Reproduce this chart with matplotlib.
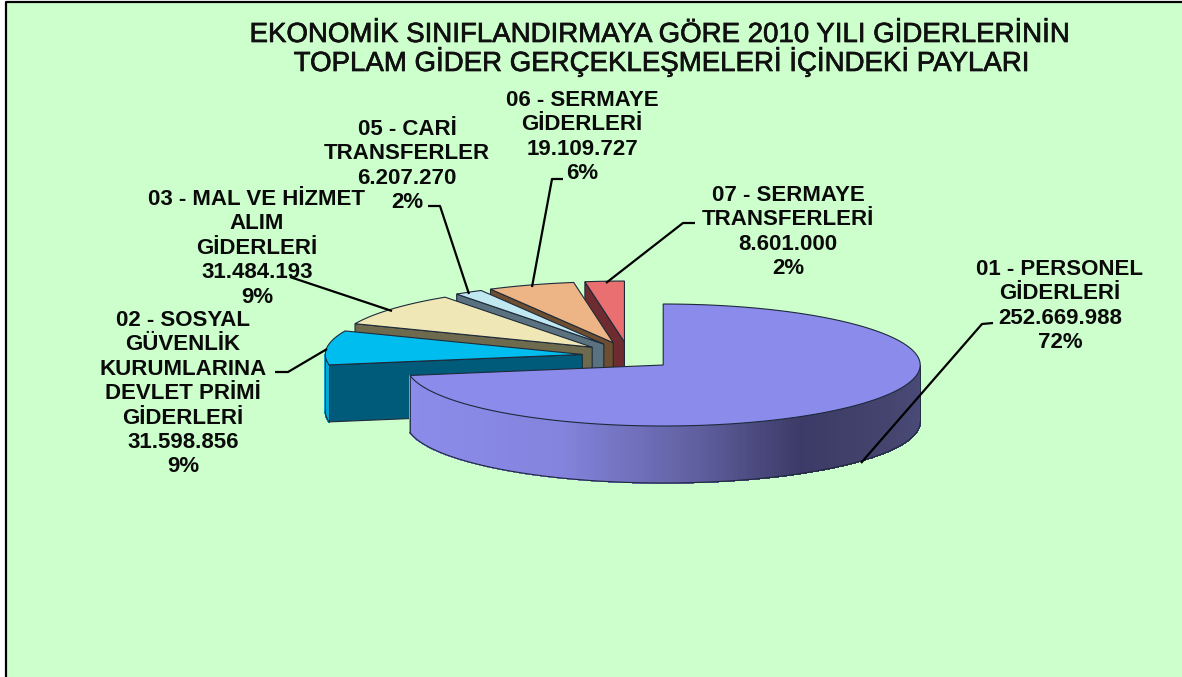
import numpy as np
import matplotlib
matplotlib.use("Agg")
import matplotlib.pyplot as plt
import matplotlib.patheffects as pe
from matplotlib.colors import LinearSegmentedColormap
from matplotlib.patches import Polygon

plt.rcParams['font.family'] = ['Liberation Sans', 'DejaVu Sans']

# slices, clockwise from 12 o'clock
codes = ["01", "02", "03", "05", "06", "07"]
values = [252669988, 31598856, 31484193, 6207270, 19109727, 8601000]
percents = ["72%", "9%", "9%", "2%", "6%", "2%"]
value_labels = ["252.669.988", "31.598.856", "31.484.193", "6.207.270", "19.109.727", "8.601.000"]
names = [
    ["01 - PERSONEL", "GİDERLERİ"],
    ["02 - SOSYAL", "GÜVENLİK", "KURUMLARINA", "DEVLET PRİMİ", "GİDERLERİ"],
    ["03 - MAL VE HİZMET", "ALIM", "GİDERLERİ"],
    ["05 - CARİ", "TRANSFERLER"],
    ["06 - SERMAYE", "GİDERLERİ"],
    ["07 - SERMAYE", "TRANSFERLERİ"],
]
top_colors = ["#8B8BEB", "#00BDEF", "#F0E7B6", "#BFE8F2", "#EDB585", "#E96F70"]
face_colors = ["#45447A", "#005A7A", "#6E6A4E", "#5A7280", "#6E4E30", "#6E2B30"]
rim_colors = ["#8B8BEB", "#00A8D6", "#6E6A4E", "#5A7280", "#6E4E30", "#6E2B30"]
title_lines = ["EKONOMİK SINIFLANDIRMAYA GÖRE 2010 YILI GİDERLERİNİN",
               "TOPLAM GİDER GERÇEKLEŞMELERİ İÇİNDEKİ PAYLARI"]

# label placement: centre x, first baseline y
label_x = [1060, 183, 257, 407, 582, 788]
label_y = [275, 326, 205, 135, 106, 201]
label_step = 24.4
leaders = [
    [(861, 463), (982, 324), (993, 323)],
    [(275, 372), (288, 372), (327, 349)],
    [(290, 277), (392, 311)],
    [(428, 206), (440, 206), (469, 294)],
    [(563, 179), (552, 179), (532, 287)],
    [(695, 223), (683, 223), (606, 283)],
]

# pie geometry in pixels
cx, cy = 628, 356
rx, ry = 257, 61
depth = 57
ex, ey = 46, 14

fig = plt.figure(figsize=(11.82, 6.77), dpi=100, facecolor="white")
ax = fig.add_axes([0, 0, 1, 1])
ax.set_xlim(0, 1182)
ax.set_ylim(677, 0)
ax.axis("off")

ax.add_patch(Polygon([(6, 2), (1182, 2), (1182, 677), (6, 677)], closed=True,
                     facecolor="#CCFFCC", edgecolor="none", zorder=0))
ax.plot([6, 6, 1182], [677, 1.5, 1.5], color="black", lw=1.6, zorder=1)

shade = LinearSegmentedColormap.from_list("shade", [
    (0.0, "#8B8BEB"), (0.3, "#8484DE"), (0.57, "#5F5F9F"),
    (0.77, "#3C3A66"), (0.95, "#45456F"), (1.0, "#4A4A78")])

edge = "#1E2A3A"
shares = np.array(values) / sum(values) * 360
starts = np.concatenate([[0], np.cumsum(shares)[:-1]])


def rim(ax0, ay0, t):
    r = np.radians(t)
    return ax0 + rx * np.sin(r), ay0 - ry * np.cos(r)


z = 2
# back slices first, the big one last
for i in [5, 4, 3, 2, 1, 0]:
    t0, t1 = starts[i], starts[i] + shares[i]
    mid = np.radians((t0 + t1) / 2)
    ax0 = cx + ex * np.sin(mid)
    ay0 = cy - ey * np.cos(mid)

    # cut face on the near side of the slice
    if i != 0:
        ex0, ey0 = rim(ax0, ay0, t0)
        ax.add_patch(Polygon([(ax0, ay0), (ex0, ey0), (ex0, ey0 + depth), (ax0, ay0 + depth)],
                             closed=True, facecolor=face_colors[i], edgecolor=edge, lw=0.8, zorder=z))
        z += 1

    # outer wall, only the front half shows
    a0, a1 = max(t0, 90), min(t1, 270)
    if a1 > a0:
        ts = np.linspace(a0, a1, 180)
        xs, ys = rim(ax0, ay0, ts)
        for k in range(len(ts) - 1):
            if i == 0:
                col = shade((xs[k] - (ax0 - rx)) / (2 * rx))
            else:
                col = rim_colors[i]
            ax.add_patch(Polygon([(xs[k], ys[k]), (xs[k + 1], ys[k + 1]),
                                  (xs[k + 1], ys[k + 1] + depth), (xs[k], ys[k] + depth)],
                                 closed=True, facecolor=col, edgecolor=col, lw=0.6,
                                 antialiased=False, zorder=z))
        ax.plot(xs, ys + depth, color=edge, lw=0.8, zorder=z)
        ax.plot([xs[-1], xs[-1]], [ys[-1], ys[-1] + depth], color=edge, lw=0.6, zorder=z)
        ax.plot([xs[0], xs[0]], [ys[0], ys[0] + depth], color=edge, lw=0.6, zorder=z)
        z += 1

    # top of the slice
    ts = np.linspace(t0, t1, 200)
    xs, ys = rim(ax0, ay0, ts)
    ax.add_patch(Polygon(np.column_stack([np.r_[ax0, xs], np.r_[ay0, ys]]), closed=True,
                         facecolor=top_colors[i], edgecolor=edge, lw=0.8, zorder=z))
    z += 1

for pts in leaders:
    xs, ys = zip(*pts)
    ax.plot(xs, ys, color="black", lw=1.6, zorder=z, solid_capstyle="butt")

for i in range(len(values)):
    lines = names[i] + [value_labels[i], percents[i]]
    for n, line in enumerate(lines):
        ax.text(label_x[i], label_y[i] + n * label_step, line, ha="center", va="baseline",
                fontsize=16, fontweight="bold", color="#0A0A0A", zorder=z + 1)

bold_ish = [pe.withStroke(linewidth=0.5, foreground="#101010")]
ax.text(659, 42, title_lines[0], ha="center", va="baseline", fontsize=19.9, color="#101010",
        path_effects=bold_ish, zorder=z + 1)
ax.text(661, 71, title_lines[1], ha="center", va="baseline", fontsize=19.9, color="#101010",
        path_effects=bold_ish, zorder=z + 1)

fig.savefig("out.png", dpi=100, facecolor="white")
